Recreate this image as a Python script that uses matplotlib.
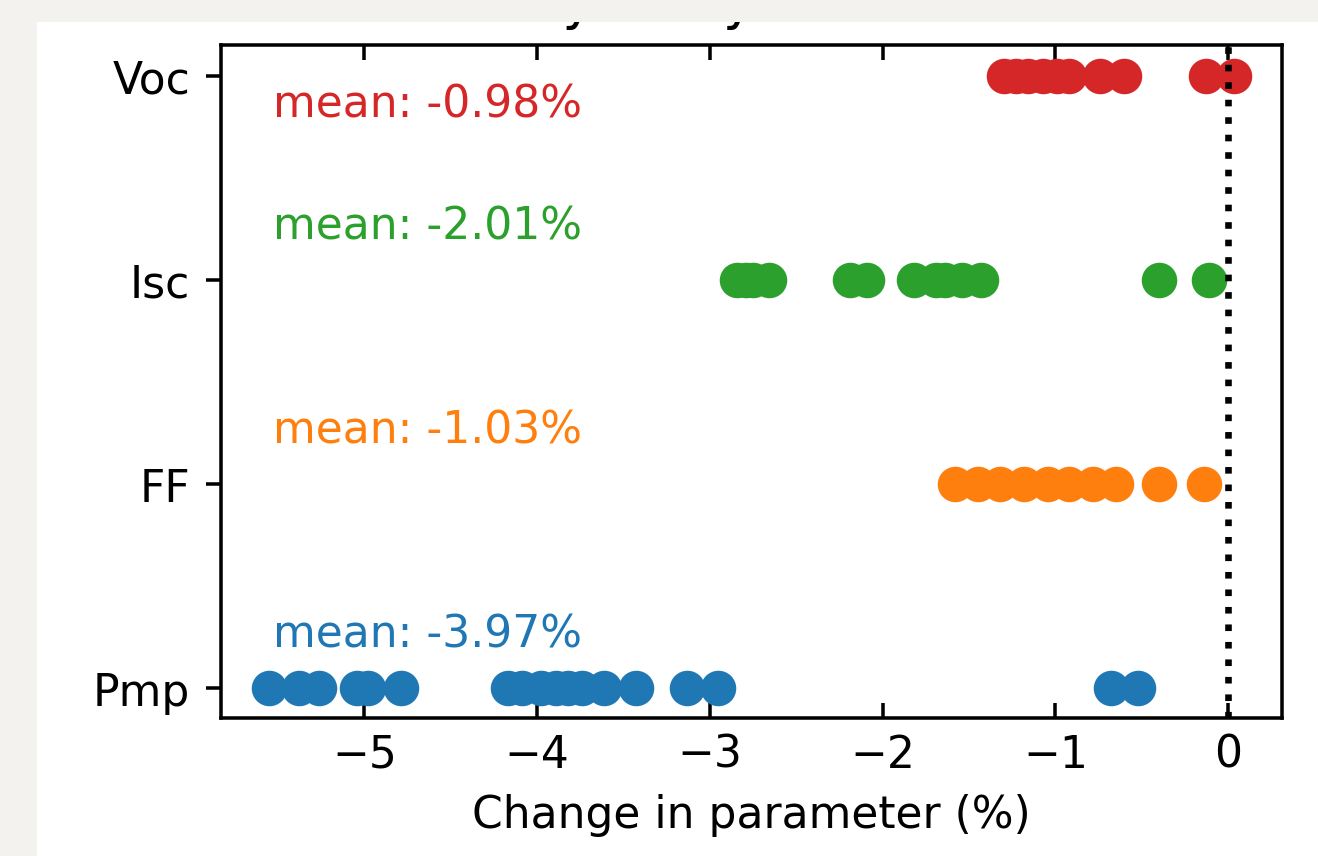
import matplotlib
matplotlib.use("Agg")
import matplotlib.pyplot as plt
from matplotlib.patches import Rectangle

# ---- data ----
categories = ["Pmp", "FF", "Isc", "Voc"]
colors = ["#1f77b4", "#ff7f0e", "#2ca02c", "#d62728"]

pmp = [-5.55, -5.38, -5.26, -5.04, -4.98, -4.79, -4.17, -4.09, -3.98, -3.89,
       -3.82, -3.74, -3.61, -3.43, -3.13, -2.95, -0.68, -0.52]
ff = [-1.58, -1.45, -1.32, -1.18, -1.04, -0.92, -0.78, -0.65, -0.40, -0.14]
isc = [-2.84, -2.79, -2.75, -2.66, -2.19, -2.09, -1.82, -1.69, -1.64, -1.54,
       -1.43, -0.40, -0.11]
voc = [-1.30, -1.23, -1.16, -1.07, -0.99, -0.92, -0.74, -0.60, -0.13, 0.035]
series = [pmp, ff, isc, voc]
mean_labels = ["mean: -3.97%", "mean: -1.03%", "mean: -2.01%", "mean: -0.98%"]

title = "Sensitivity analysis of 8 modules"
xlabel = "Change in parameter (%)"

# ---- figure ----
DPI = 316.8
W, H = 1318, 856
fig = plt.figure(figsize=((W + 0.4) / DPI, (H + 0.4) / DPI), dpi=DPI)
fig.patch.set_facecolor("white")
ax = fig.add_axes([221 / W, 1 - 718 / H, (1282 - 221) / W, (718 - 45) / H])

for i, (vals, c) in enumerate(zip(series, colors)):
    ax.scatter(vals, [i] * len(vals), s=50, color=c, zorder=2)

ax.axvline(0, color="k", linestyle=":", zorder=3)

for i, (lab, c) in enumerate(zip(mean_labels, colors)):
    y = i + 0.2 if i < 3 else i - 0.2
    ax.text(-5.53, y, lab, color=c, va="baseline", ha="left")

ax.set_yticks(range(len(categories)))
ax.set_yticklabels(categories)
ax.set_ylim(-0.145, 3.155)
ax.tick_params(axis="x", direction="in", top=True)
ax.set_xlabel(xlabel)
ax.set_title(title)

gray = "#f3f2ee"
fig.add_artist(Rectangle((0, 0), 37 / W, 1, transform=fig.transFigure,
                         facecolor=gray, edgecolor="none", zorder=10))
fig.add_artist(Rectangle((0, 1 - 22 / H), 1, 22 / H, transform=fig.transFigure,
                         facecolor=gray, edgecolor="none", zorder=10))

fig.savefig("out.png", dpi=DPI)
